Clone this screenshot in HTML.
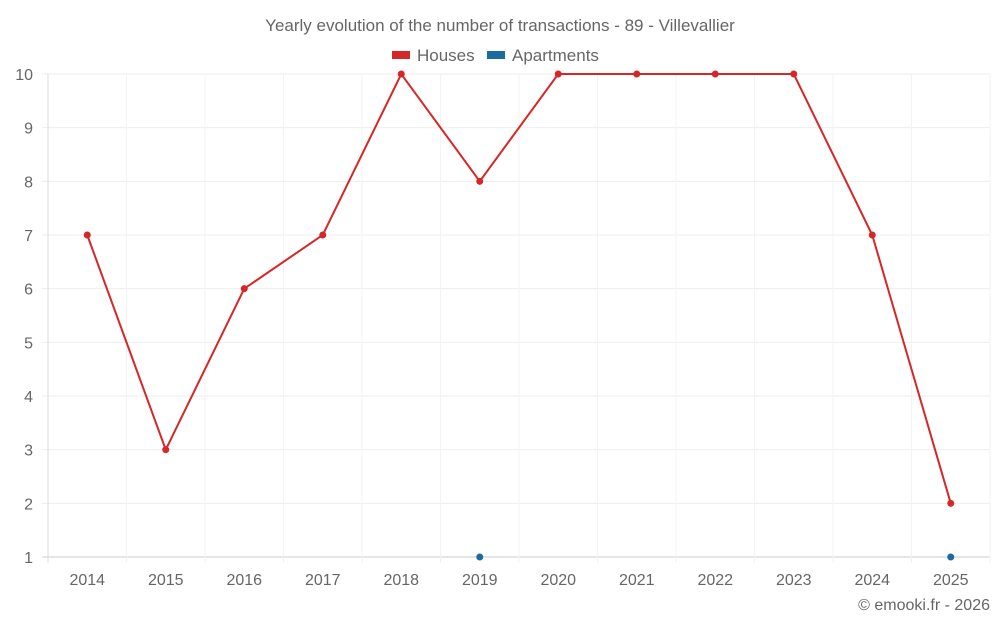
<!DOCTYPE html>
<html><head><meta charset="utf-8"><style>
body{margin:0;background:#fff;font-family:"Liberation Sans",sans-serif}
svg text{font-family:"Liberation Sans",sans-serif;fill:#666}
</style></head><body>
<svg id="c" width="1000" height="625">
<text x="500" y="31" text-anchor="middle" font-size="17">Yearly evolution of the number of transactions - 89 - Villevallier</text>
<g><rect x="392" y="51" width="18" height="8" fill="#d62728"/><text x="417" y="61" font-size="17">Houses</text></g>
<g><rect x="487" y="51" width="18" height="8" fill="#1a6aa3"/><text x="512" y="61" font-size="17">Apartments</text></g>
<text x="990" y="610" text-anchor="end" font-size="16">© emooki.fr - 2026</text>
<g id="grid"></g><g id="axes"></g><g id="series"></g>
</svg>
<script>
const years=["2014","2015","2016","2017","2018","2019","2020","2021","2022","2023","2024","2025"];
const houses=[7,3,6,7,10,8,10,10,10,10,7,2];
const apartments=[null,null,null,null,null,1,null,null,null,null,null,1];
const yTicks=[1,2,3,4,5,6,7,8,9,10];
const L=48,R=990,T=74,B=557,yMin=1,yMax=10;
const bw=(R-L)/years.length;
const xs=i=>L+bw*(i+0.5);
const ys=v=>B-(v-yMin)/(yMax-yMin)*(B-T);
const ns="http://www.w3.org/2000/svg";
function mk(p,t,a){const e=document.createElementNS(ns,t);for(const k in a)e.setAttribute(k,a[k]);document.getElementById(p).appendChild(e);return e;}
yTicks.forEach(v=>{
 const l=mk('grid','line',{x1:L-6,x2:R,y1:ys(v),y2:ys(v),stroke:v===yMin?'#ccc':'#eeeeee'});
 
 
 const t=mk('axes','text',{x:33,y:ys(v)+6,'text-anchor':'end','font-size':16});t.textContent=v;
 
 
});
for(let i=0;i<=years.length;i++){
 const l=mk('grid','line',{x1:L+bw*i,x2:L+bw*i,y1:T,y2:B+6,stroke:i===0?'#ddd':'#f3f3f3'});
 
 
}
years.forEach((y,i)=>{
 const t=mk('axes','text',{x:xs(i),y:585,'text-anchor':'middle','font-size':16});t.textContent=y;
 
 
});
function draw(data,color,name){
 let d='',pen=false;
 data.forEach((v,i)=>{if(v==null){pen=false;return;}d+=(pen?'L':'M')+xs(i)+' '+ys(v);pen=true;});
 const p=mk('series','path',{d:d,fill:'none',stroke:color,'stroke-width':2});
 
 
 data.forEach((v,i)=>{if(v==null)return;
  const c=mk('series','circle',{cx:xs(i),cy:ys(v),r:3.5,fill:color});
  
  
 });
}
draw(houses,'#d62728','houses');
draw(apartments,'#1a6aa3','apartments');
</script>
</body></html>
